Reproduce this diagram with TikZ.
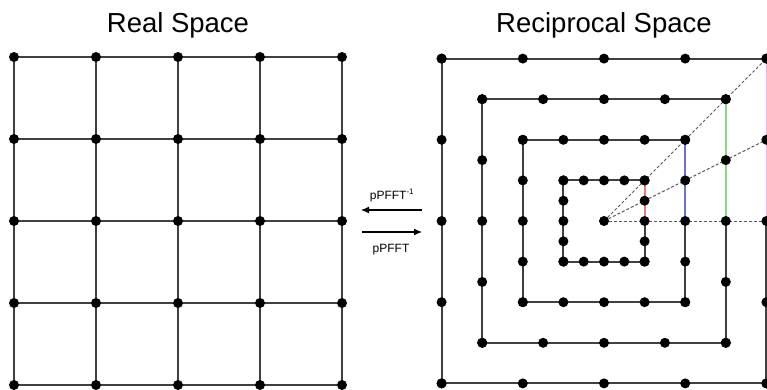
\documentclass[tikz,border=0pt]{standalone}
\usepackage{fontspec}
\setmainfont{Liberation Sans}
\usetikzlibrary{calc, arrows.meta}
\definecolor{edgered}{RGB}{240,120,120}
\definecolor{edgeblue}{RGB}{105,115,210}
\definecolor{edgegreen}{RGB}{135,215,135}
\definecolor{edgepink}{RGB}{245,185,228}

\begin{document}
\begin{tikzpicture}[x=1pt,y=-1pt]
			\tikzset{
				gridline/.style={draw=black!75, line width=2pt},
				dot/.style={circle, fill=black, inner sep=0pt, minimum size=10pt},
				rayline/.style={draw=black!65, line width=1pt, densely dashed},
				tagline/.style={line width=1.8pt},
				fftarrow/.style={line width=1.1pt, -{Latex[length=8pt,width=7pt]}},
				title/.style={font=\fontsize{27.5}{32}\selectfont, anchor=base},
				fftlabel/.style={font=\fontsize{12}{14}\selectfont, anchor=base}
			}
			\clip (0,0) rectangle (767,390);
			%Titles
			\node [title] (realtitle) at (178,33) {Real Space};
			\node [title] (rectitle) at (604,33) {Reciprocal Space};
			%Real space grid points
			\foreach \i in {0,...,4} {
				\foreach \j in {0,...,4} {
					\coordinate (r\i\j) at (14+82*\i,57+82*\j);
				}
			}
			%Grid lines in both directions
			\foreach \i in {0,...,4} {
				\draw [gridline] (r\i0) -- (r\i4);
				\draw [gridline] (r0\i) -- (r4\i);
			}
			%Transform arrows
			\coordinate (invstart) at (422,210);
			\coordinate (invend) at (361,210);
			\coordinate (fwdstart) at (362,232);
			\coordinate (fwdend) at (422,232);
			\draw [fftarrow] (invstart) -- (invend);
			\draw [fftarrow] (fwdstart) -- (fwdend);
			\node [fftlabel] (invlabel) at (392,199) {pPFFT\textsuperscript{-1}};
			\node [fftlabel] (fwdlabel) at (391,252) {pPFFT};
			%Centre of reciprocal space
			\coordinate (origin) at (604,221);
			%Squares: corners and middle of the right side
			\foreach \k in {1,...,4} {
				\coordinate (tr\k) at ($(origin)+(40.6*\k,-40.6*\k)$);
				\coordinate (br\k) at ($(origin)+(40.6*\k,40.6*\k)$);
				\coordinate (bl\k) at ($(origin)+(-40.6*\k,40.6*\k)$);
				\coordinate (tl\k) at ($(origin)+(-40.6*\k,-40.6*\k)$);
				\coordinate (mr\k) at ($(origin)+(40.6*\k,0)$);
				\coordinate (qr\k) at ($(origin)+(40.6*\k,-20.3*\k)$);
			}
			%Black part of each square
			\foreach \k in {1,...,4} {
				\draw [gridline] (mr\k) -- (br\k) -- (bl\k) -- (tl\k) -- (tr\k);
			}
			%Coloured part of the right sides
			\draw [tagline, draw=edgered] (tr1) -- (mr1);
			\draw [tagline, draw=edgeblue] (tr2) -- (mr2);
			\draw [tagline, draw=edgegreen] (tr3) -- (mr3);
			\draw [tagline, draw=edgepink] (tr4) -- (mr4);
			%Rays from the centre
			\draw [rayline] (origin) -- (tr4);
			\draw [rayline] (origin) -- (qr4);
			\draw [rayline] (origin) -- (mr4);
			%Dots of the real space grid
			\foreach \i in {0,...,4} {
				\foreach \j in {0,...,4} {
					\node [dot] (rd\i\j) at (r\i\j) {};
				}
			}
			%Dots of the squares
			\node [dot] (kd0) at (origin) {};
			\foreach \k in {1,...,4} {
				\foreach \t in {-2,...,2} {
					\node [dot] (kt\k\t) at ($(origin)+(20.3*\k*\t,-40.6*\k)$) {};
					\node [dot] (kb\k\t) at ($(origin)+(20.3*\k*\t,40.6*\k)$) {};
					\node [dot] (kl\k\t) at ($(origin)+(-40.6*\k,20.3*\k*\t)$) {};
					\node [dot] (kr\k\t) at ($(origin)+(40.6*\k,20.3*\k*\t)$) {};
				}
			}
\end{tikzpicture}
\end{document}
